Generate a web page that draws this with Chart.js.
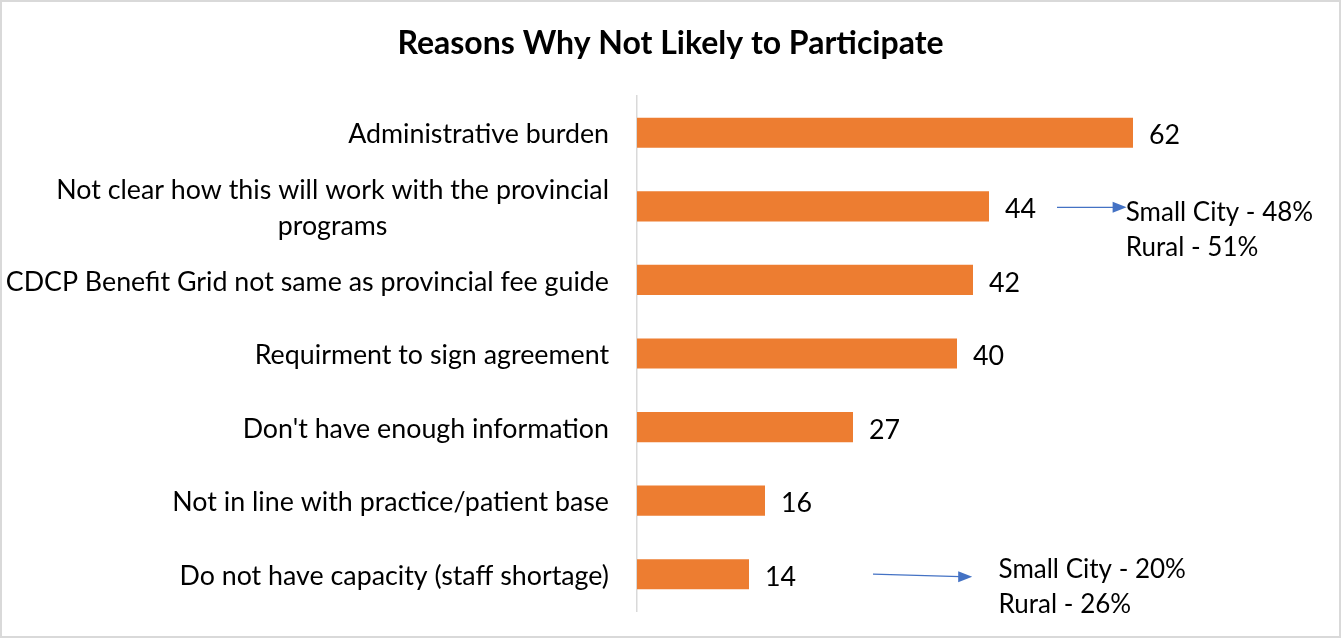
<!DOCTYPE html>
<html>
<head>
<meta charset="utf-8">
<script src="https://cdn.jsdelivr.net/npm/chart.js@4.4.1/dist/chart.umd.min.js"></script>
<style>
    html, body { margin: 0; padding: 0; background: #ffffff; }
    #wrap { width: 1341px; height: 638px; }
</style>
</head>
<body>
<div id="wrap"><canvas id="reasonsChart" width="1341" height="638"></canvas></div>
<script>
// Chart data
const chartTitle = 'Reasons Why Not Likely to Participate';
const categories = [
    'Administrative burden',
    ['Not clear how this will work with the provincial', 'programs'],
    'CDCP Benefit Grid not same as provincial fee guide',
    'Requirment to sign agreement',
    "Don't have enough information",
    'Not in line with practice/patient base',
    'Do not have capacity (staff shortage)'
];
const counts = [62, 44, 42, 40, 27, 16, 14];

// Callouts next to two of the bars (category index, arrow start/end and text start in value units)
const calloutCategory = [1, 6];
const calloutArrowFrom = [52.5, 29.5];
const calloutArrowTo = [61.2, 41.9];
const calloutTextAt = [61.1, 45.2];
const calloutLines = [
    ['Small City - 48%', 'Rural - 51%'],
    ['Small City - 20%', 'Rural - 26%']
];

const barColor = '#ED7D31';
const arrowColor = '#4472C4';
const textColor = '#000000';
const axisColor = '#d9d9d9';
const fontFamily = 'Lato, "Open Sans", sans-serif';
const labelFont = '26.8px ' + fontFamily;
const calloutFont = '26px ' + fontFamily;

// Draws background, border, title, category labels, value labels and callouts
const decorations = {
    id: 'decorations',
    beforeDraw(chart) {
        const ctx = chart.ctx;
        ctx.save();
        ctx.fillStyle = '#ffffff';
        ctx.fillRect(0, 0, chart.width, chart.height);
        ctx.restore();
    },
    afterDraw(chart) {
        const ctx = chart.ctx;
        const xs = chart.scales.x;
        const ys = chart.scales.y;
        const area = chart.chartArea;
        ctx.save();

        // outer border
        ctx.strokeStyle = axisColor;
        ctx.lineWidth = 2;
        ctx.strokeRect(1, 1, chart.width - 2, chart.height - 2);

        // title
        ctx.fillStyle = textColor;
        ctx.font = 'bold 32px ' + fontFamily;
        ctx.textAlign = 'center';
        ctx.textBaseline = 'middle';
        ctx.fillText(chartTitle, chart.width / 2, 44);

        // category labels (right aligned block, lines centred in block)
        ctx.font = labelFont;
        const lineGap = 36;
        categories.forEach((label, i) => {
            const lines = Array.isArray(label) ? label : [label];
            const yc = ys.getPixelForValue(i) + 2;
            const right = area.left - 28;
            const widest = Math.max(...lines.map(l => ctx.measureText(l).width));
            const centre = right - widest / 2;
            lines.forEach((line, j) => {
                const y = yc + (j - (lines.length - 1) / 2) * lineGap;
                ctx.textAlign = 'center';
                ctx.fillText(line, centre, y);
            });
        });

        // value labels
        ctx.textAlign = 'left';
        counts.forEach((v, i) => {
            ctx.fillText(String(v), xs.getPixelForValue(v) + 16, ys.getPixelForValue(i) + 3);
        });

        // callouts
        ctx.font = calloutFont;
        calloutCategory.forEach((cat, k) => {
            const yc = ys.getPixelForValue(cat);
            const x0 = xs.getPixelForValue(calloutArrowFrom[k]);
            const x1 = xs.getPixelForValue(calloutArrowTo[k]);
            const y0 = yc + (k === 0 ? 1 : 0);
            const y1 = yc + (k === 0 ? 1 : 2.5);
            ctx.strokeStyle = arrowColor;
            ctx.lineWidth = 1.2;
            ctx.beginPath();
            ctx.moveTo(x0, y0);
            ctx.lineTo(x1 - 12, y1);
            ctx.stroke();
            ctx.fillStyle = arrowColor;
            ctx.beginPath();
            ctx.moveTo(x1, y1);
            ctx.lineTo(x1 - 14, y1 - 5.5);
            ctx.lineTo(x1 - 14, y1 + 5.5);
            ctx.closePath();
            ctx.fill();

            ctx.fillStyle = textColor;
            ctx.textAlign = 'left';
            const tx = xs.getPixelForValue(calloutTextAt[k]);
            const top = k === 0 ? yc + 6 : yc - 5;
            calloutLines[k].forEach((line, j) => {
                ctx.fillText(line, tx, top + j * 35);
            });
        });
        ctx.restore();
    }
};

function renderChart() {
    const ctx = document.getElementById('reasonsChart').getContext('2d');
    new Chart(ctx, {
        type: 'bar',
        data: {
            labels: categories,
            datasets: [{
                data: counts,
                backgroundColor: barColor,
                borderWidth: 0,
                categoryPercentage: 1,
                barPercentage: 0.41
            }]
        },
        options: {
            indexAxis: 'y',
            responsive: false,
            animation: false,
            layout: {
                padding: { top: 96, right: 64, bottom: 27, left: 0 }
            },
            scales: {
                x: {
                    display: false,
                    min: 0,
                    max: 80
                },
                y: {
                    display: true,
                    ticks: { display: false },
                    grid: { display: false },
                    border: { display: true, color: axisColor, width: 1.5 },
                    afterFit(scale) {
                        scale.width = 637;
                    }
                }
            },
            plugins: {
                legend: { display: false },
                title: { display: false },
                tooltip: { enabled: false }
            }
        },
        plugins: [decorations]
    });
}

if (document.readyState === 'loading') {
    document.addEventListener('DOMContentLoaded', renderChart);
} else {
    renderChart();
}
</script>
</body>
</html>
